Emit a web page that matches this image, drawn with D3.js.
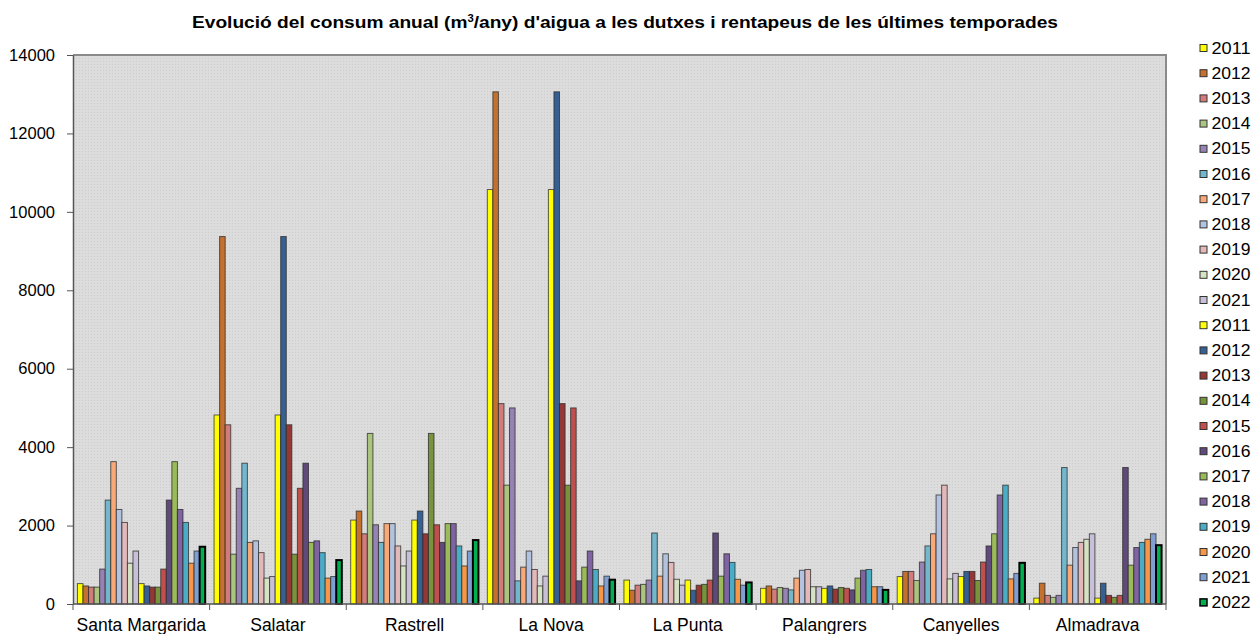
<!DOCTYPE html>
<html>
<head>
<meta charset="utf-8">
<script src="https://cdn.jsdelivr.net/npm/d3@7"></script>
<style>
  body { margin: 0; background: #fff; }
  svg { display: block; font-family: "Liberation Sans", Arial, sans-serif; }
</style>
</head>
<body>
<script>
// categories (beaches)
const categories = ["Santa Margarida", "Salatar", "Rastrell", "La Nova", "La Punta", "Palangrers", "Canyelles", "Almadrava"];

// series values, one array per season, in category order
const a2011 = [520, 4820, 2140, 10570, 610, 400, 700, 150];
const a2012 = [460, 9370, 2370, 13060, 350, 460, 830, 530];
const a2013 = [430, 4570, 1790, 5110, 480, 380, 830, 220];
const a2014 = [430, 1270, 4350, 3030, 500, 420, 600, 170];
const a2015 = [890, 2950, 2020, 5000, 610, 400, 1070, 220];
const a2016 = [2650, 3590, 1570, 590, 1810, 360, 1480, 3480];
const a2017 = [3630, 1570, 2050, 940, 710, 660, 1790, 990];
const a2018 = [2410, 1610, 2050, 1350, 1280, 860, 2780, 1440];
const a2019 = [2080, 1310, 1480, 880, 1060, 880, 3030, 1570];
const a2020 = [1040, 660, 970, 460, 630, 440, 640, 1650];
const a2021 = [1350, 700, 1350, 710, 480, 440, 780, 1790];

const b2011 = [520, 4820, 2140, 10570, 610, 400, 700, 150];
const b2012 = [460, 9370, 2370, 13060, 350, 460, 830, 530];
const b2013 = [430, 4570, 1790, 5110, 480, 380, 830, 220];
const b2014 = [430, 1270, 4350, 3030, 500, 420, 600, 170];
const b2015 = [890, 2950, 2020, 5000, 610, 400, 1070, 220];
const b2016 = [2650, 3590, 1570, 590, 1810, 360, 1480, 3480];
const b2017 = [3630, 1570, 2050, 940, 710, 660, 1790, 990];
const b2018 = [2410, 1610, 2050, 1350, 1280, 860, 2780, 1440];
const b2019 = [2080, 1310, 1480, 880, 1060, 880, 3030, 1570];
const b2020 = [1040, 660, 970, 460, 630, 440, 640, 1650];
const b2021 = [1350, 700, 1350, 710, 480, 440, 780, 1790];
const b2022 = [1460, 1120, 1630, 620, 550, 360, 1050, 1500];

const seriesNames = ["2011", "2012", "2013", "2014", "2015", "2016", "2017", "2018", "2019", "2020", "2021",
                     "2011", "2012", "2013", "2014", "2015", "2016", "2017", "2018", "2019", "2020", "2021", "2022"];
const seriesValues = [a2011, a2012, a2013, a2014, a2015, a2016, a2017, a2018, a2019, a2020, a2021,
                      b2011, b2012, b2013, b2014, b2015, b2016, b2017, b2018, b2019, b2020, b2021, b2022];
const seriesColors = ["#ffff00", "#c4702f", "#d17b7b", "#abc47e", "#9682b3", "#73b7cc", "#f9a878", "#b3c3df", "#e2b8b8", "#d5e2c3", "#c8c0d8",
                      "#ffff00", "#376092", "#953735", "#77933c", "#c0504d", "#604a7b", "#9bbb59", "#8064a2", "#4bacc6", "#f79646", "#7f9fd3", "#00b050"];

const yTicks = [0, 2000, 4000, 6000, 8000, 10000, 12000, 14000];

const W = 1253, H = 634;
const margin = {top: 55, right: 87, bottom: 30, left: 73};
const width = W - margin.left - margin.right,
      height = H - margin.top - margin.bottom;

const svg = d3.select("body").append("svg")
  .attr("width", W)
  .attr("height", H);

// dotted grey fill of the plot area
const defs = svg.append("defs");
const pat = defs.append("pattern")
  .attr("id", "dots")
  .attr("width", 3).attr("height", 3)
  .attr("patternUnits", "userSpaceOnUse");
pat.append("rect").attr("width", 3).attr("height", 3).attr("fill", "#dcdcdc");
pat.append("rect").attr("width", 1).attr("height", 1).attr("fill", "#cdcdcd");

// title
const title = svg.append("text")
  .attr("x", 625)
  .attr("y", 28)
  .attr("text-anchor", "middle")
  .attr("font-size", 17)
  .attr("font-weight", "bold")
  .attr("textLength", 866)
  .attr("lengthAdjust", "spacingAndGlyphs")
  .attr("fill", "#000");
title.append("tspan").text("Evolució del consum anual (m");
title.append("tspan").attr("font-size", 10).attr("dy", -6).text("3");
title.append("tspan").attr("dy", 6).text("/any) d'aigua a les dutxes i rentapeus de les últimes temporades");

const g = svg.append("g")
  .attr("transform", "translate(" + margin.left + "," + margin.top + ")");

g.append("rect")
  .attr("width", width)
  .attr("height", height)
  .attr("fill", "url(#dots)");

// top and right frame
g.append("path")
  .attr("d", "M0,0H" + width + "V" + height)
  .attr("fill", "none")
  .attr("stroke", "#8a8a8a")
  .attr("stroke-width", 2);

const x0 = d3.scaleBand()
  .domain(categories)
  .range([0, width])
  .paddingInner(0.065)
  .paddingOuter(0.0325);

const x1 = d3.scaleBand()
  .domain(d3.range(seriesNames.length))
  .range([0, x0.bandwidth()]);

const y = d3.scaleLinear()
  .domain([0, 14000])
  .range([height, 0]);

// bars
const groups = g.selectAll("g.cat")
  .data(categories)
  .join("g")
  .attr("class", "cat")
  .attr("transform", d => "translate(" + x0(d) + ",0)");

groups.selectAll("rect")
  .data((c, ci) => seriesValues.map((vals, si) => ({si: si, v: vals[ci]})))
  .join("rect")
  .attr("x", d => x1(d.si))
  .attr("y", d => y(d.v))
  .attr("width", x1.bandwidth())
  .attr("height", d => y(0) - y(d.v))
  .attr("fill", d => seriesColors[d.si])
  .attr("stroke", d => d.si === 22 ? "#000" : "#2a2a2a")
  .attr("stroke-opacity", d => d.si === 22 ? 1 : 0.75)
  .attr("stroke-width", d => d.si === 22 ? 2 : 1);

// Y axis
const yAxis = g.append("g")
  .call(d3.axisLeft(y).tickValues(yTicks).tickFormat(d3.format("d")).tickSize(6).tickSizeOuter(0));
yAxis.select(".domain").attr("stroke", "#555").attr("stroke-width", 1.5);
yAxis.selectAll(".tick line").attr("stroke", "#555");
yAxis.selectAll(".tick text")
  .attr("x", -18)
  .attr("font-size", 16.5)
  .attr("font-family", "Liberation Sans, Arial, sans-serif")
  .attr("fill", "#000");

// X axis with ticks at category boundaries
const xAxis = g.append("g")
  .attr("transform", "translate(0," + height + ")");
xAxis.append("line")
  .attr("x1", 0).attr("x2", width)
  .attr("stroke", "#555").attr("stroke-width", 1.5);
const boundaries = d3.range(categories.length + 1).map(i => i * x0.step());
xAxis.selectAll("line.tk")
  .data(boundaries)
  .join("line")
  .attr("class", "tk")
  .attr("x1", d => d).attr("x2", d => d)
  .attr("y1", 0).attr("y2", 6)
  .attr("stroke", "#555");
xAxis.selectAll("text")
  .data(categories)
  .join("text")
  .attr("x", d => x0(d) + x0.bandwidth() / 2)
  .attr("y", 27)
  .attr("text-anchor", "middle")
  .attr("font-size", 17.5)
  .attr("fill", "#000")
  .text(d => d);

// legend
const legend = svg.append("g")
  .attr("transform", "translate(1200,48)");
const items = legend.selectAll("g")
  .data(seriesNames)
  .join("g")
  .attr("transform", (d, i) => "translate(0," + (i * 25.2) + ")");
items.append("rect")
  .attr("x", 0).attr("y", -3.5)
  .attr("width", 7).attr("height", 7)
  .attr("fill", (d, i) => seriesColors[i])
  .attr("stroke", (d, i) => i === 22 ? "#000" : "#333")
  .attr("stroke-width", (d, i) => i === 22 ? 1.5 : 1);
items.append("text")
  .attr("x", 11.5)
  .attr("y", 5.5)
  .attr("font-size", 16)
  .attr("textLength", 39)
  .attr("lengthAdjust", "spacingAndGlyphs")
  .attr("fill", "#000")
  .text(d => d);
</script>
</body>
</html>
